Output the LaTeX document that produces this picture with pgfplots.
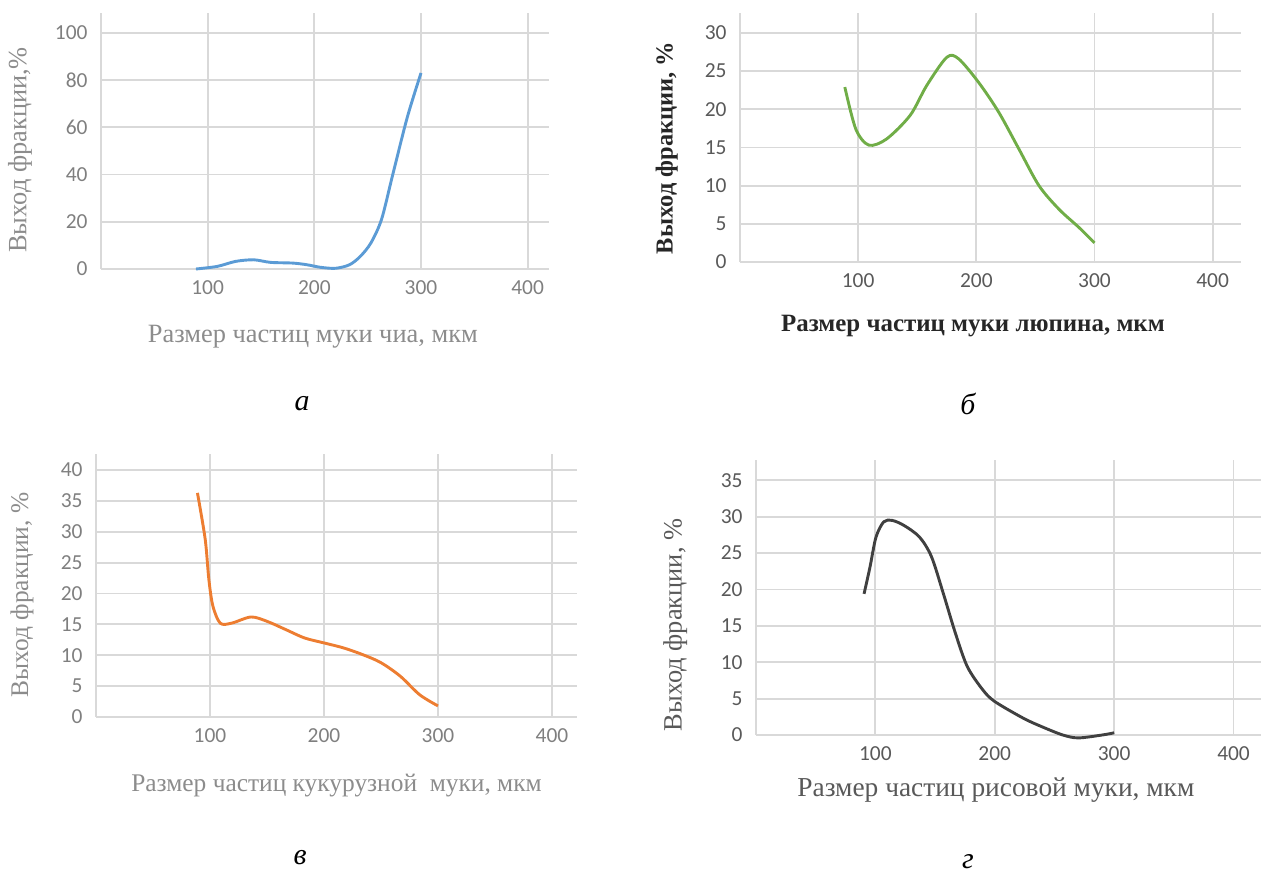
\documentclass[border=0pt]{standalone}
\usepackage{fontspec}
\setmainfont{Liberation Serif}
\newfontfamily\calib{Carlito}
\usepackage{pgfplots}
\pgfplotsset{compat=1.18}
\definecolor{gridc}{HTML}{D9D9D9}
\definecolor{tickc}{HTML}{7F7F7F}
\definecolor{tickd}{HTML}{595959}
\definecolor{lblc}{HTML}{8C8C8C}
\definecolor{lbld}{HTML}{262626}
\definecolor{cblue}{HTML}{5B9BD5}
\definecolor{cgreen}{HTML}{70AD47}
\definecolor{corange}{HTML}{ED7D31}
\definecolor{cgray}{HTML}{404040}
\pgfplotsset{panel/.style={scale only axis, anchor=south west, xmin=0, ymin=0,
  axis line style={draw=none}, grid=major, major grid style={gridc, line width=1.8bp},
  tick style={draw=none}, xtick={0,100,200,300,400}, xticklabels={,100,200,300,400},
  /pgf/number format/assume math mode=true,
  ticklabel style={font=\calib\fontsize{21.5}{24}\selectfont, text=tickc},
  xticklabel style={yshift=-8bp}, yticklabel style={xshift=-10bp},
  clip=false,
  xlabel style={anchor=center, font=\fontsize{26.5}{30}\selectfont, text=lblc},
  ylabel style={anchor=center, font=\fontsize{26.5}{30}\selectfont, text=lblc},
  every axis plot/.append style={smooth, line width=2.9bp, mark=none}}}
\begin{document}
\begin{tikzpicture}
\path[use as bounding box] (0,0) rectangle (1271bp,874bp);
% panel a
\begin{axis}[panel, at={(101bp,605bp)}, width=448bp, height=256bp, xmax=420, ymax=108.4,
  ytick={0,20,40,60,80,100},
  xlabel={Размер частиц муки чиа, мкм}, ylabel={Выход фракции,\%},
  xlabel style={at={(axis description cs:0.473,-0.266)}},
  ylabel style={at={(axis description cs:-0.181,0.465)}}]
\addplot[cblue] coordinates {(89,0) (109,1.1) (126,3.2) (143,3.9) (159,2.8) (180,2.5) (193,1.8) (206,0.7) (220,0.3) (233,1.8) (243,5.3) (253,11) (263,21) (273,39) (287,64) (300,83)};
\end{axis}
% panel b
\begin{axis}[panel, at={(740bp,612bp)}, width=501bp, height=249bp, xmax=424, ymax=32.6,
  ytick={0,5,10,15,20,25,30}, ticklabel style={text=tickd},
  xlabel={Размер частиц муки люпина, мкм}, ylabel={Выход фракции, \%},
  xlabel style={at={(axis description cs:0.465,-0.257)}, font=\bfseries\fontsize{25}{29}\selectfont, text=lbld},
  ylabel style={at={(axis description cs:-0.146,0.458)}, font=\bfseries\fontsize{24.5}{29}\selectfont, text=lbld}]
\addplot[cgreen] coordinates {(88.7,22.9) (98,17.4) (109,15.3) (124,16.1) (144,19.2) (158,23.1) (175,26.8) (185,26.6) (202,23.5) (219,19.6) (236,14.8) (253,10) (270,6.9) (287,4.5) (300,2.5)};
\end{axis}
% panel c
\begin{axis}[panel, at={(96bp,157bp)}, width=481bp, height=263bp, xmax=422, ymax=42.6,
  ytick={0,5,10,15,20,25,30,35,40},
  xlabel={Размер частиц кукурузной\ \ муки, мкм}, ylabel={Выход фракции, \%},
  xlabel style={at={(axis description cs:0.50,-0.259)}, font=\fontsize{25.5}{30}\selectfont},
  ylabel style={at={(axis description cs:-0.154,0.464)}, font=\fontsize{25.5}{30}\selectfont}]
\addplot[corange] coordinates {(89,36.3) (95.8,28.8) (99,22.3) (102.5,18) (109,15.2) (119,15.2) (136,16.2) (150,15.5) (166,14.2) (183,12.8) (200,12) (217,11.2) (234,10.1) (250,8.8) (267,6.6) (284,3.6) (300,1.8)};
\end{axis}
% panel d
\begin{axis}[panel, at={(756bp,139bp)}, width=505bp, height=275bp, xmax=423, ymax=37.8,
  ytick={0,5,10,15,20,25,30,35}, ticklabel style={text=tickd},
  xlabel={Размер частиц рисовой муки, мкм}, ylabel={Выход фракции, \%},
  xlabel style={at={(axis description cs:0.475,-0.2)}, text=tickd, font=\fontsize{27.5}{31}\selectfont},
  ylabel style={at={(axis description cs:-0.160,0.40)}, text=tickd, font=\fontsize{26.5}{30}\selectfont}]
\addplot[cgray] coordinates {(90.5,19.4) (95.5,23.1) (100.5,27.2) (107,29.3) (114,29.5) (124,28.8) (137,27.2) (147,24.5) (157,19.4) (167,14) (177,9.4) (190,6.2) (200,4.6) (224,2.3) (240,1.1) (257,0) (270,-0.4) (290,0) (300,0.3)};
\end{axis}
\node[font=\itshape\fontsize{30}{34}\selectfont] at (302bp,470bp) {а};
\node[font=\itshape\fontsize{30}{34}\selectfont] at (968bp,470bp) {б};
\node[font=\itshape\fontsize{30}{34}\selectfont] at (300bp,16bp) {в};
\node[font=\itshape\fontsize{30}{34}\selectfont] at (968bp,12bp) {г};
\end{tikzpicture}
\end{document}
